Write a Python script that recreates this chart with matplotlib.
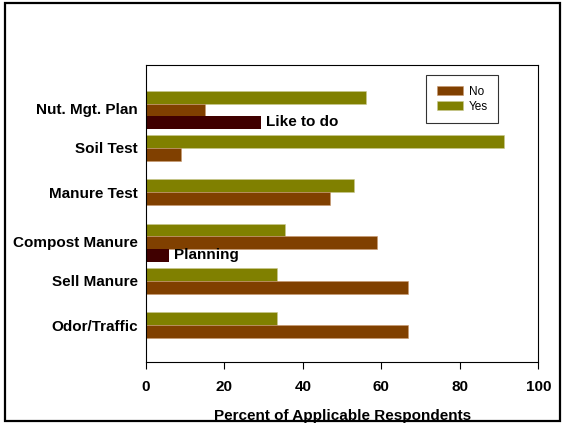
import matplotlib.pyplot as plt
import matplotlib.patches as patches
import numpy as np

plt.rcParams['font.family'] = ['Liberation Sans', 'DejaVu Sans']

categories = ['Nut. Mgt. Plan', 'Soil Test', 'Manure Test', 'Compost Manure', 'Sell Manure', 'Odor/Traffic']
yes = [56, 91.3, 53, 35.3, 33.3, 33.3]
no = [15, 9, 47, 58.8, 66.7, 66.7]
extra_cat = ['Nut. Mgt. Plan', 'Compost Manure']
extra_val = [29.4, 5.9]
extra_txt = ['Like to do', 'Planning']

c_yes = '#808000'
c_no = '#804000'
c_extra = '#400000'

fig = plt.figure(figsize=(5.65, 4.24), dpi=100)
ax = fig.add_axes([0.2584, 0.1467, 0.6945, 0.6995])

n = len(categories)
pos = np.arange(n)[::-1] + 0.83  # top category first
h = 0.29

ax.barh(pos + h/2, yes, height=h, color=c_yes, edgecolor='#c8c890', linewidth=0.4, label='Yes')
ax.barh(pos - h/2, no, height=h, color=c_no, edgecolor='#c89870', linewidth=0.4, label='No')
for cat, v, t in zip(extra_cat, extra_val, extra_txt):
    y = pos[categories.index(cat)] - 1.5*h
    ax.barh(y, v, height=h, color=c_extra)
    ax.text(v + 1.3, y + 0.02, t, va='center', ha='left', fontsize=11, fontweight='bold')

ax.set_xlim(0, 100)
ax.set_ylim(0, 6.695)
ax.set_xticks(np.arange(0, 101, 20))
tick_pos = pos.copy()
tick_pos[0] -= 0.12
tick_pos[3] -= 0.11
ax.set_yticks(tick_pos)
ax.set_yticklabels(categories, fontsize=11, fontweight='bold')
ax.tick_params(axis='y', length=0, pad=6)
ax.tick_params(axis='x', length=5, direction='out', labelsize=11, pad=8)
for lab in ax.get_xticklabels():
    lab.set_fontweight('bold')
ax.set_xlabel('Percent of Applicable Respondents', fontsize=11, fontweight='bold', labelpad=11)
for s in ax.spines.values():
    s.set_linewidth(0.8)

handles, labels = ax.get_legend_handles_labels()
leg = ax.legend(handles[::-1], labels[::-1], loc='upper right', bbox_to_anchor=(0.898, 0.967),
                borderaxespad=0, fontsize=8.5, frameon=True, fancybox=False, edgecolor='black',
                handlelength=2.2, handleheight=0.9, labelspacing=0.25, borderpad=0.9,
                handletextpad=0.5)
leg.get_frame().set_linewidth(0.8)

fig.patches.append(patches.Rectangle((5/565, 3/424), 555/565, 418/424, transform=fig.transFigure,
                                     fill=False, edgecolor='black', linewidth=1.6))

fig.savefig('out.png', dpi=100)
